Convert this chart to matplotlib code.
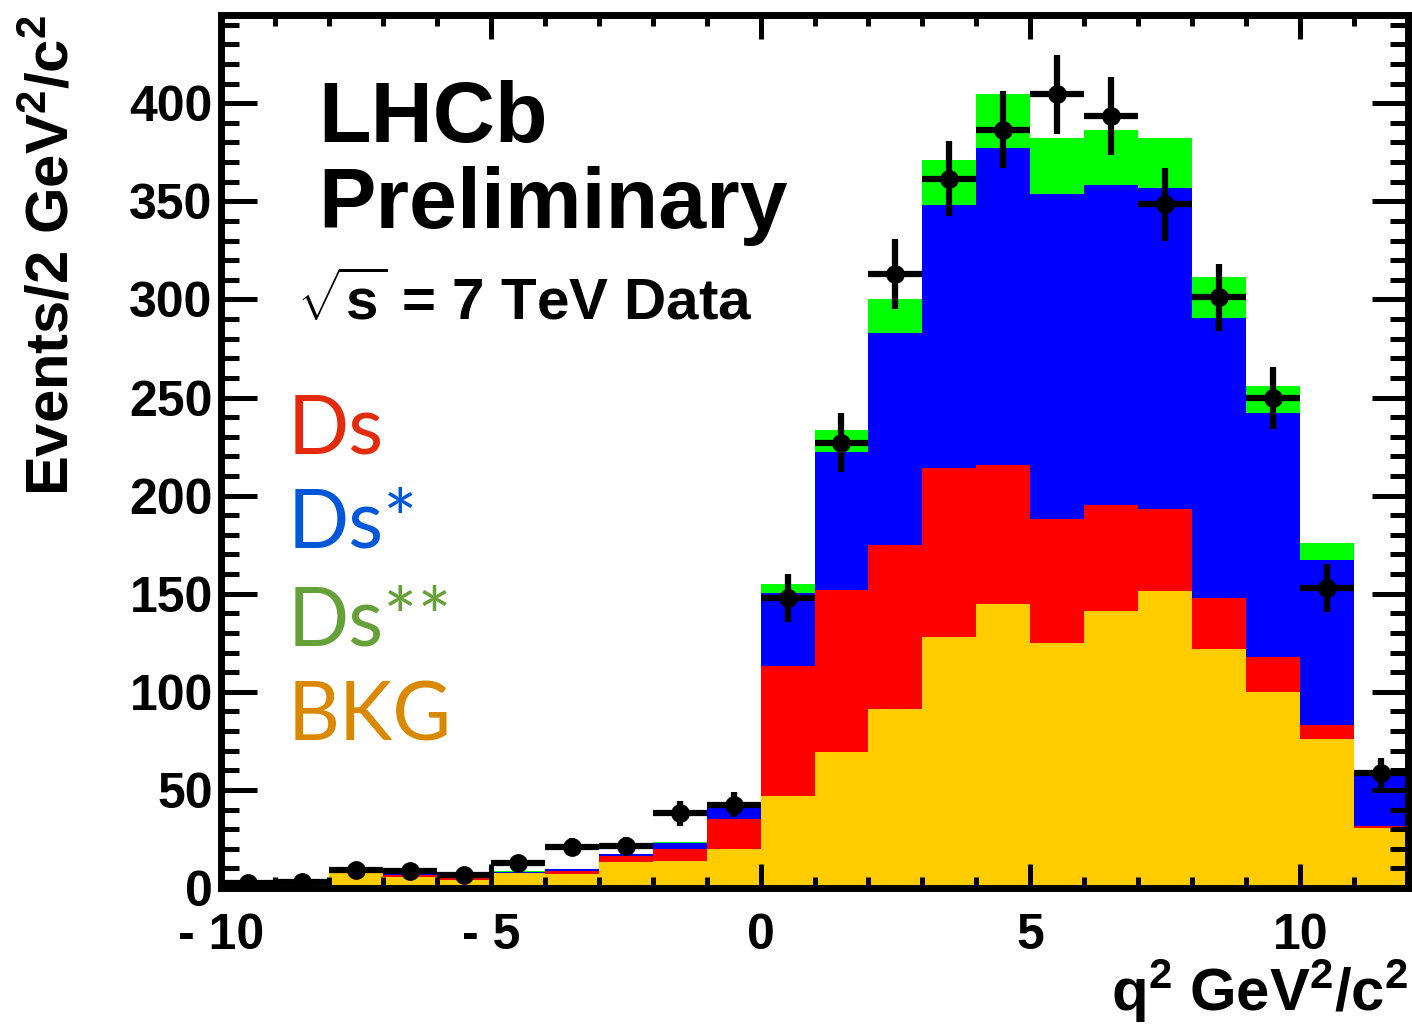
import numpy as np
import matplotlib
matplotlib.use("Agg")
import matplotlib.pyplot as plt
from matplotlib.ticker import MultipleLocator

plt.rcParams['font.family'] = ['Liberation Sans', 'DejaVu Sans']
plt.rcParams['font.weight'] = 'bold'
plt.rcParams['axes.labelweight'] = 'bold'
plt.rcParams['mathtext.fontset'] = 'custom'
plt.rcParams['mathtext.rm'] = 'Liberation Sans:bold'
plt.rcParams['mathtext.it'] = 'Liberation Sans:bold'
plt.rcParams['mathtext.bf'] = 'Liberation Sans:bold'

# q2 bins, 1 GeV2/c2 wide from -10 to 12
edges = np.arange(-10, 13, 1)
centers = edges[:-1] + 0.5

# fitted components per bin (stacked bottom to top)
bkg = [3.5, 2.5, 7.5, 5.8, 4.1, 7.5, 7.1, 13.1, 13.9, 19.7, 46.9, 69.5,
       91.2, 127.9, 144.9, 125.0, 141.1, 151.3, 121.9, 99.9, 75.9, 30.4]
ds = [0.2, 0.5, 0.5, 1.0, 0.9, 0.4, 1.5, 3.4, 6.0, 15.5, 66.4, 82.3,
      83.6, 86.3, 70.6, 63.2, 53.9, 41.8, 25.9, 17.6, 7.2, 1.2]
ds_star = [0.5, 1.0, 0.2, 0.5, 0.9, 0.5, 0.9, 0.8, 3.2, 5.9, 36.9, 70.4,
           108.2, 134.0, 161.7, 165.6, 163.1, 163.8, 142.7, 124.4, 84.0, 25.6]
ds_2star = [0.1, 0.0, 0.3, 0.1, 0.1, 0.1, 0.3, 0.2, 0.2, 0.7, 4.9, 11.0,
            17.0, 23.1, 27.6, 28.7, 28.0, 25.4, 20.8, 13.9, 8.9, 0.3]

# data points with their errors
data = [2.4, 3.2, 9.0, 8.8, 6.7, 12.8, 20.8, 21.4, 38.0, 42.5, 148.0, 227.0,
        313.0, 361.5, 386.5, 404.5, 393.5, 348.5, 301.0, 250.0, 153.0, 58.8]
data_err = [1.5, 1.8, 3.0, 3.0, 2.6, 3.6, 4.6, 4.6, 6.2, 6.5, 12.2, 15.1,
            17.7, 19.0, 19.7, 20.1, 19.8, 18.7, 17.3, 15.8, 12.4, 7.7]

components = [bkg, ds, ds_star, ds_2star]
fill_colors = ['#FFCC00', '#FF0000', '#0000FF', '#00FF00']
label_names = ['BKG', 'Ds', 'Ds*', 'Ds**']
label_colors = ['#D98800', '#E32B0C', '#0057D9', '#66A038']

fig = plt.figure(figsize=(14.12, 10.29), dpi=100)
ax = fig.add_axes([0.1565, 0.137, 0.8407, 0.8485])

bottom = np.zeros(len(centers))
for comp, col in zip(components, fill_colors):
    top = bottom + np.array(comp)
    ax.stairs(top, edges, baseline=bottom, fill=True, color=col, lw=0)
    bottom = top

ax.errorbar(centers, data, xerr=0.5, yerr=data_err, fmt='o', color='black',
            ms=12.5, elinewidth=4.5, capsize=0, zorder=5)

ax.set_xlim(-10, 12)
ax.set_ylim(0, 445)
ax.set_xticks([-10, -5, 0, 5, 10], ['- 10', '- 5', '0', '5', '10'])
ax.xaxis.set_minor_locator(MultipleLocator(1))
ax.yaxis.set_major_locator(MultipleLocator(50))
ax.yaxis.set_minor_locator(MultipleLocator(10))
ax.tick_params(which='both', direction='in', top=True, right=True, width=3.6,
               labelsize=36)
ax.tick_params(axis='x', which='major', length=17, pad=18)
ax.tick_params(axis='x', which='minor', length=8)
ax.tick_params(axis='y', which='major', length=26, pad=6)
ax.tick_params(axis='y', which='minor', length=13)
for sp in ax.spines.values():
    sp.set_linewidth(5)

ax.set_ylabel(r'Events/2 GeV$^{2}$/c$^{2}$', fontsize=43, loc='top')
ax.yaxis.set_label_coords(-0.118, 1.0)
ax.set_xlabel(r'q$^{2}$ GeV$^{2}$/c$^{2}$', fontsize=43, loc='right')
ax.xaxis.set_label_coords(1.0, -0.08)

ax.text(0.0817, 0.8545, 'LHCb', transform=ax.transAxes, fontsize=62,
        va='baseline')
ax.text(0.0817, 0.756, 'Preliminary', transform=ax.transAxes, fontsize=62,
        va='baseline')
ax.text(0.064, 0.6506, r'$\sqrt{s}$ = 7 TeV Data', transform=ax.transAxes,
        fontsize=42, va='baseline')

# coloured component labels, top to bottom
label_y = [0.1695, 0.498, 0.3895, 0.278]
for name, col, y in zip(label_names, label_colors, label_y):
    ax.text(0.0564, y, name, transform=ax.transAxes, fontsize=58,
            family=['Lato', 'DejaVu Sans'], weight='normal', color=col,
            va='baseline')

fig.savefig('out.png', dpi=100)
